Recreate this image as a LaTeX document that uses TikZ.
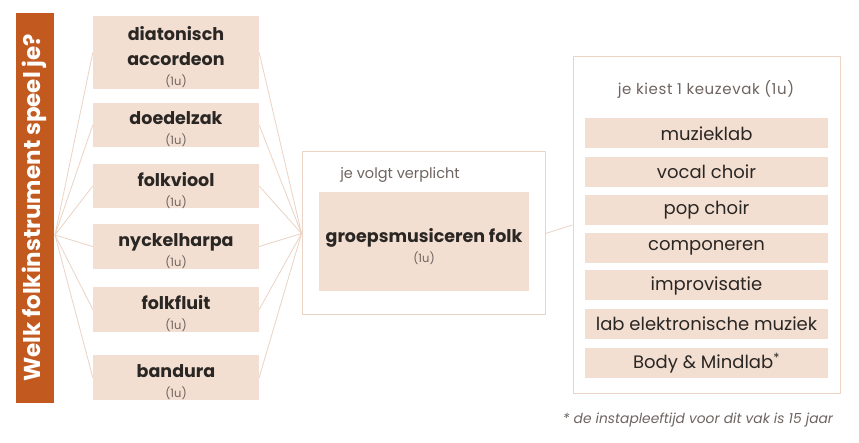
\documentclass[tikz,border=0pt]{standalone}
\usepackage{fontspec}
\setmainfont{Poppins}
\definecolor{barorange}{HTML}{C25A1F}
\definecolor{peach}{HTML}{F3DFD1}
\definecolor{lineclr}{HTML}{EBD3C5}
\definecolor{txtdark}{HTML}{2A2624}
\definecolor{txtgray}{HTML}{6E6460}
\newcommand{\unitlbl}{\fontsize{11.5}{12}\selectfont\mdseries\color{txtgray}}
\begin{document}
\begin{tikzpicture}[x=1pt,y=-1pt,
  instbox/.style={fill=peach,draw=none,minimum width=166pt,inner sep=0pt},
  insttext/.style={inner sep=0pt,align=center,text=txtdark,font=\fontsize{17.5}{25}\selectfont\bfseries},
  optbox/.style={fill=peach,draw=none,minimum width=243pt,minimum height=30pt,inner sep=0pt,text=txtdark,font=\fontsize{18}{18}\selectfont},
  frame/.style={draw=lineclr,line width=1pt,fill=white},
  fan/.style={draw=lineclr,line width=0.8pt}
]
\useasboundingbox (0,0) rectangle (859,443);
\fill[white] (0,0) rectangle (859,443);
% orange bar
\node[fill=barorange,minimum width=38pt,minimum height=390pt,inner sep=0pt] (bar) at (34.5,208) {};
\node[rotate=90,text=white,font=\fontsize{23}{24}\selectfont\bfseries] (bartext) at (bar.center) {Welk folkinstrument speel je?};
\coordinate (lhub) at (55,235);
% frames
\node[frame,minimum width=243pt,minimum height=163pt,inner sep=0pt] (mid) at (423.5,233.5) {};
\node[frame,minimum width=267pt,minimum height=336pt,inner sep=0pt] (right) at (706.5,225) {};
% instruments
\node[instbox,minimum height=73pt] (i1) at (176,52.5) {};
\node[instbox,minimum height=44pt] (i2) at (176,125) {};
\node[instbox,minimum height=44pt] (i3) at (176,186) {};
\node[instbox,minimum height=45pt] (i4) at (176,246.5) {};
\node[instbox,minimum height=45pt] (i5) at (176,309.5) {};
\node[instbox,minimum height=45pt] (i6) at (176,377.5) {};
\node[insttext] (t1) at ([yshift=-5pt]i1.center) {diatonisch\\accordeon\\[-5pt]{\unitlbl (1u)}};
\node[insttext] (t2) at ([yshift=-4.5pt]i2.center) {doedelzak\\[-5pt]{\unitlbl (1u)}};
\node[insttext] (t3) at ([yshift=-4.5pt]i3.center) {folkviool\\[-5pt]{\unitlbl (1u)}};
\node[insttext] (t4) at ([yshift=-4.5pt]i4.center) {nyckelharpa\\[-5pt]{\unitlbl (1u)}};
\node[insttext] (t5) at ([yshift=-4.5pt]i5.center) {folkfluit\\[-5pt]{\unitlbl (1u)}};
\node[insttext] (t6) at ([yshift=-4.5pt]i6.center) {bandura\\[-5pt]{\unitlbl (1u)}};
\foreach \i in {1,...,6}{
  \draw[fan] (lhub) -- (i\i.west);
  \draw[fan] (i\i.east) -- (mid.west);
}
% middle
\node[text=txtgray,font=\fontsize{14.5}{15}\selectfont] (midtitle) at (400,175) {je volgt verplicht};
\node[fill=peach,minimum width=210pt,minimum height=99pt,inner sep=0pt] (core) at (424,241.5) {};
\node[insttext] (coretext) at ([yshift=-5pt]core.center) {groepsmusiceren folk\\[-5pt]{\unitlbl (1u)}};
\draw[fan] (mid.east) -- (right.west);
% right
\node[text=txtgray,font=\fontsize{15}{16}\selectfont\addfontfeatures{LetterSpace=4}] (rtitle) at (706,89) {je kiest 1 keuzevak (1u)};
\node[optbox] (o1) at (706.5,133.5) {muzieklab};
\node[optbox] (o2) at (706.5,172) {vocal choir};
\node[optbox] (o3) at (706.5,210) {pop choir};
\node[optbox] (o4) at (706.5,248) {componeren};
\node[optbox] (o5) at (706.5,285.5) {improvisatie};
\node[optbox] (o6) at (706.5,324) {lab elektronische muziek};
\node[optbox] (o7) at (706.5,363) {Body \& Mindlab\textsuperscript{*}};
\node[text=txtgray,font=\fontsize{13.8}{14}\selectfont\itshape] (note) at (698,420) {* de instapleeftijd voor dit vak is 15 jaar};
\end{tikzpicture}
\end{document}
